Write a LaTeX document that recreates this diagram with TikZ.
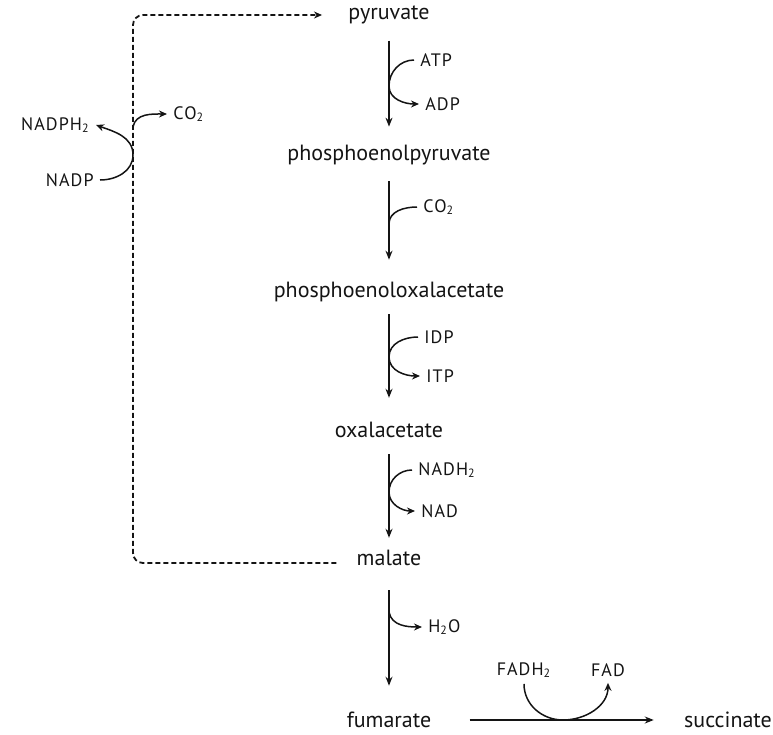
\documentclass[tikz,border=0pt]{standalone}
\usepackage{fontspec}
\setmainfont{PT Sans}
\usepackage{tikz}
\usetikzlibrary{arrows.meta, positioning}
\definecolor{inkdark}{RGB}{20,20,20}
\tikzset{
  metab/.style={font=\fontsize{11}{13}\selectfont, inner sep=1pt, text=inkdark},
  cofac/.style={font=\fontsize{9}{10}\selectfont\addfontfeature{LetterSpace=6}, inner sep=3pt, anchor=west, text=inkdark},
  reaction/.style={-{Stealth[length=4.5pt, width=3.5pt]}, line width=0.7pt, color=inkdark},
  arrow/.style={-{Stealth[length=4pt, width=3.5pt]}, line width=0.75pt, color=inkdark},
  line/.style={line width=0.75pt, color=inkdark},
  shunt/.style={line width=0.9pt, color=inkdark, dash pattern=on 2.5pt off 1.5pt, rounded corners=5pt}
}

\begin{document}
\begin{tikzpicture}[x=0.5pt, y=-0.5pt]
  \useasboundingbox (0,0) rectangle (773,735);

  % Metabolites on the main axis
  \node[metab] (pyr) at (389,15) {pyruvate};
  \node[metab] (pep) at (389,155) {phosphoenolpyruvate};
  \node[metab] (poa) at (389,292) {phosphoenoloxalacetate};
  \node[metab] (oaa) at (389,430) {oxalacetate};
  \node[metab] (mal) at (389,558) {malate};
  \node[metab] (fum) at (389,720) {fumarate};
  \node[metab] (suc) at (728,720) {succinate};

  % Cofactors
  \node[cofac] (atp) at (414,60) {ATP};
  \node[cofac] (adp) at (419,104) {ADP};
  \node[cofac] (co2b) at (417,207) {CO\textsubscript{2}};
  \node[cofac] (idp) at (418,337) {IDP};
  \node[cofac] (itp) at (420,376) {ITP};
  \node[cofac] (nadh) at (412,470) {NADH\textsubscript{2}};
  \node[cofac] (nad) at (415,511) {NAD};
  \node[cofac] (h2o) at (422,627) {H\textsubscript{2}O};
  \node[cofac] (co2c) at (167,114) {CO\textsubscript{2}};
  \node[cofac, anchor=east] (nadph) at (96,125) {NADPH\textsubscript{2}};
  \node[cofac, anchor=east] (nadp) at (100,180) {NADP};
  \node[cofac, anchor=center] (fadh) at (524,670) {FADH\textsubscript{2}};
  \node[cofac, anchor=center] (fad) at (608,670) {FAD};

  % Touch points on the reaction lines
  \coordinate (k1) at (389,86);
  \coordinate (k2) at (389,224);
  \coordinate (k3) at (389,357);
  \coordinate (k4) at (389,492);
  \coordinate (k5) at (389,612);
  \coordinate (k6) at (133,127);
  \coordinate (k7) at (133,155);
  \coordinate (k8) at (563,720);
  \coordinate (k9) at (133,15);

  % Main reactions
  \draw[reaction, shorten <=7pt, shorten >=8pt] (pyr) -- (pep);
  \draw[reaction, shorten <=7pt, shorten >=10pt] (pep) -- (poa);
  \draw[reaction, shorten <=5pt, shorten >=11pt] (poa) -- (oaa);
  \draw[reaction, shorten <=7pt, shorten >=5pt] (oaa) -- (mal);
  \draw[reaction, shorten <=11pt, shorten >=12pt] (mal) -- (fum);
  \draw[reaction, shorten <=18pt, shorten >=14pt] (fum) -- (suc);

  % Side reactions
  \draw[arrow] (atp.west) to[out=180, in=90] (k1) to[out=-90, in=180] (adp.west);
  \draw[line] (co2b.west) to[out=180, in=90] (k2);
  \draw[arrow] (idp.west) to[out=180, in=90] (k3) to[out=-90, in=180] (itp.west);
  \draw[arrow] (nadh.west) to[out=180, in=90] (k4) to[out=-90, in=180] (nad.west);
  \draw[arrow] (k5) to[out=-80, in=180] (h2o.west);
  \draw[arrow] (fadh.south) to[out=-90, in=180] (k8) to[out=0, in=-90] (fad.south);

  % Malic enzyme shunt
  \draw[shunt, -{Stealth[length=4pt, width=3.5pt]}, shorten <=9pt, shorten >=12pt]
    ([yshift=-2.5pt]mal.west) -| (k9) -- (pyr.west);
  \draw[arrow] (k6) to[out=80, in=180] (co2c.west);
  \draw[arrow] (nadp.east) to[out=0, in=-90] (k7) to[out=90, in=-20] (nadph.east);
\end{tikzpicture}
\end{document}
